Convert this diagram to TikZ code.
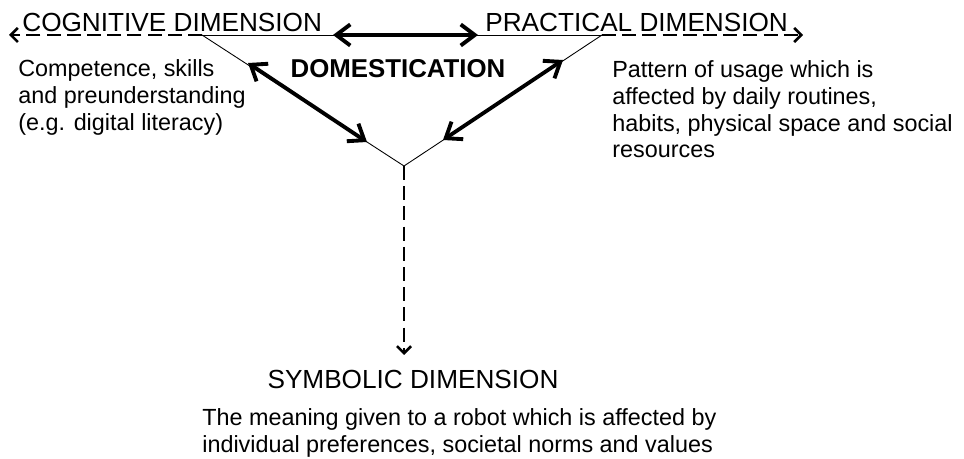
\documentclass[tikz,border=0pt]{standalone}
\usepackage{fontspec}
\setmainfont{Liberation Sans}
\usetikzlibrary{arrows.meta,positioning}

\begin{document}
\begin{tikzpicture}[x=0.02cm,y=-0.02cm]
\tikzstyle{dim}=[font=\fontsize{14.9}{17}\selectfont,inner sep=0pt]
\tikzstyle{desc}=[font=\fontsize{13.3}{15.3}\selectfont,inner sep=0pt,align=left]
\tikzstyle{edge}=[line width=0.5pt]
\tikzstyle{both}=[line width=2.2pt,{Straight Barb[length=8pt,width=12pt]}-{Straight Barb[length=8pt,width=12pt]}]
\tikzstyle{ext}=[line width=1.5pt,dash pattern=on 8pt off 3.5pt,-{Straight Barb[length=4pt,width=8pt]}]
\useasboundingbox (0,0) rectangle (964,459);
% corners of the triangle
\coordinate (cog) at (202,35);
\coordinate (prac) at (602,35);
\coordinate (sym) at (404,166);
\coordinate (cogend) at (9,35);
\coordinate (pracend) at (803,35);
\coordinate (symend) at (404,355);
% ends of the thick arrows
\coordinate (topl) at (333,35);
\coordinate (topr) at (478,35);
\coordinate (leftup) at (248,63);
\coordinate (leftdown) at (367,142);
\coordinate (rightup) at (563,60);
\coordinate (rightdown) at (443,140);

\node [dim,anchor=base west] (cogtitle) at (22,32) {COGNITIVE DIMENSION};
\node [dim,anchor=base west] (practitle) at (485,32) {PRACTICAL DIMENSION};
\node [dim,anchor=base] (symtitle) at (413,388) {SYMBOLIC DIMENSION};
\node [font=\bfseries\fontsize{14.7}{17}\selectfont,inner sep=0pt,anchor=base] (dom) at (398,78) {DOMESTICATION};
\node [desc,anchor=north west] (cogtext) at (18,59) {Competence, skills\\and preunderstanding\\(e.g. digital literacy)};
\node [desc,anchor=north west] (practext) at (612,60) {Pattern of usage which is\\affected by daily routines,\\habits, physical space and social\\resources};
\node [desc,anchor=north west] (symtext) at (202,408) {The meaning given to a robot which is affected by\\individual preferences, societal norms and values};

\draw[edge] (cog) -- (prac);
\draw[edge] (cog) -- (sym) -- (prac);
\draw[ext] (cog) -- (cogend);
\draw[ext] (prac) -- (pracend);
\draw[ext] (sym) -- (symend);
\draw[both] (topl) -- (topr);
\draw[both] (leftup) -- (leftdown);
\draw[both] (rightup) -- (rightdown);
\end{tikzpicture}
\end{document}
